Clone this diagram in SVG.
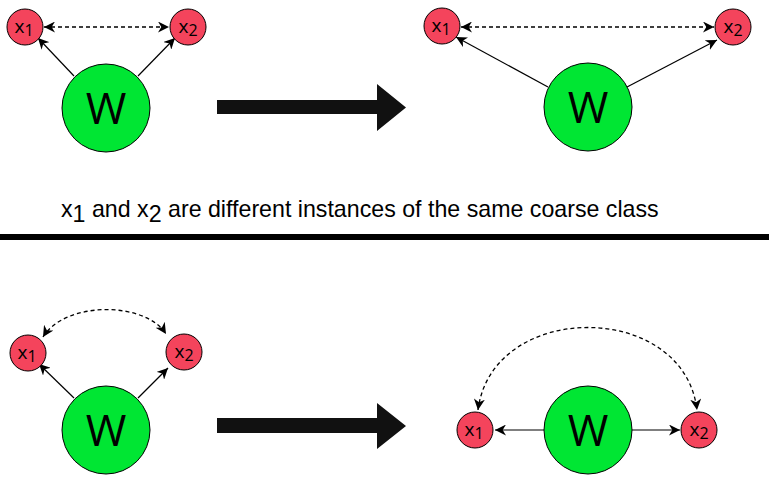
<svg xmlns="http://www.w3.org/2000/svg" width="769" height="484" viewBox="0 0 769 484">
<style>
.x{fill:#f4445c;stroke:#000;stroke-width:1}
.w{fill:#00e633;stroke:#000;stroke-width:1}
.lx{font-family:"Open Sans","DejaVu Sans",sans-serif;font-size:19px;fill:#000}
.sub{font-size:16px}
.lw{font-family:"Open Sans","DejaVu Sans",sans-serif;font-size:44px;fill:#000}
.e{fill:none;stroke:#000;stroke-width:1.2}
.d{fill:none;stroke:#000;stroke-width:1.3;stroke-dasharray:4 3}
.cap{font-family:"Liberation Sans",Arial,sans-serif;font-size:23.2px;fill:#000}
</style>
<defs>
<marker id="ah" viewBox="0 0 10 10" refX="10" refY="5" markerWidth="11" markerHeight="11" markerUnits="userSpaceOnUse" orient="auto-start-reverse">
<path d="M0,0 L10,5 L0,10 L3,5 z" fill="#000"/>
</marker>
</defs>
<rect width="769" height="484" fill="#fff"/>

<g id="connectors">
<line class="e" x1="74" y1="76" x2="38" y2="38" marker-end="url(#ah)"/>
<line class="e" x1="138" y1="76" x2="175" y2="38" marker-end="url(#ah)"/>
<line class="d" x1="44" y1="27" x2="169" y2="27" marker-start="url(#ah)" marker-end="url(#ah)"/>
<line class="e" x1="548" y1="87" x2="456" y2="37" marker-end="url(#ah)"/>
<line class="e" x1="627" y1="87" x2="717" y2="40" marker-end="url(#ah)"/>
<line class="d" x1="461" y1="27" x2="714" y2="27" marker-start="url(#ah)" marker-end="url(#ah)"/>
<line class="e" x1="74" y1="398" x2="39" y2="364" marker-end="url(#ah)"/>
<line class="e" x1="138" y1="398" x2="168" y2="368" marker-end="url(#ah)"/>
<path class="d" d="M43,337 C65,301 145,301 166,334" marker-start="url(#ah)" marker-end="url(#ah)"/>
<line class="e" x1="544" y1="430" x2="495" y2="430" marker-end="url(#ah)"/>
<line class="e" x1="632" y1="430" x2="680" y2="430" marker-end="url(#ah)"/>
<path class="d" d="M478,410 C492,300 684,300 697,410" marker-start="url(#ah)" marker-end="url(#ah)"/>
</g>

<g id="tl-x1"><circle class="x" cx="25" cy="27" r="18"/><text class="lx" x="24" y="33" text-anchor="middle">x<tspan class="sub" dy="3">1</tspan></text></g>
<g id="tl-x2"><circle class="x" cx="188" cy="27" r="18"/><text class="lx" x="188" y="33" text-anchor="middle">x<tspan class="sub" dy="3">2</tspan></text></g>
<g id="tl-w"><circle class="w" cx="106" cy="108" r="44"/><text class="lw" x="106" y="124" text-anchor="middle">W</text></g>

<g id="tr-x1"><circle class="x" cx="442" cy="26" r="18"/><text class="lx" x="441" y="32" text-anchor="middle">x<tspan class="sub" dy="3">1</tspan></text></g>
<g id="tr-x2"><circle class="x" cx="733" cy="27" r="18"/><text class="lx" x="733" y="33" text-anchor="middle">x<tspan class="sub" dy="3">2</tspan></text></g>
<g id="tr-w"><circle class="w" cx="588" cy="107" r="44"/><text class="lw" x="588" y="123" text-anchor="middle">W</text></g>

<g id="bl-x1"><circle class="x" cx="28" cy="353" r="18"/><text class="lx" x="27" y="359" text-anchor="middle">x<tspan class="sub" dy="3">1</tspan></text></g>
<g id="bl-x2"><circle class="x" cx="184" cy="352" r="18"/><text class="lx" x="184" y="358" text-anchor="middle">x<tspan class="sub" dy="3">2</tspan></text></g>
<g id="bl-w"><circle class="w" cx="106" cy="430" r="44"/><text class="lw" x="106" y="446" text-anchor="middle">W</text></g>

<g id="br-x1"><circle class="x" cx="475" cy="430" r="18"/><text class="lx" x="474" y="436" text-anchor="middle">x<tspan class="sub" dy="3">1</tspan></text></g>
<g id="br-x2"><circle class="x" cx="699" cy="430" r="18"/><text class="lx" x="699" y="436" text-anchor="middle">x<tspan class="sub" dy="3">2</tspan></text></g>
<g id="br-w"><circle class="w" cx="588" cy="430" r="44"/><text class="lw" x="588" y="446" text-anchor="middle">W</text></g>

<g id="big-arrow-top"><polygon points="217,100 377,100 377,84 406,107.5 377,131 377,114 217,114" fill="#111"/></g>
<g id="big-arrow-bottom"><polygon points="217,418 377,418 377,403 406,426 377,449 377,433 217,433" fill="#111"/></g>

<g id="caption"><text class="cap" x="61" y="217">x<tspan dy="5">1</tspan><tspan dy="-5"> and x</tspan><tspan dy="5">2</tspan><tspan dy="-5"> are different instances of the same coarse class</tspan></text></g>
<rect id="divider" x="0" y="234" width="769" height="6" fill="#000"/>
</svg>
